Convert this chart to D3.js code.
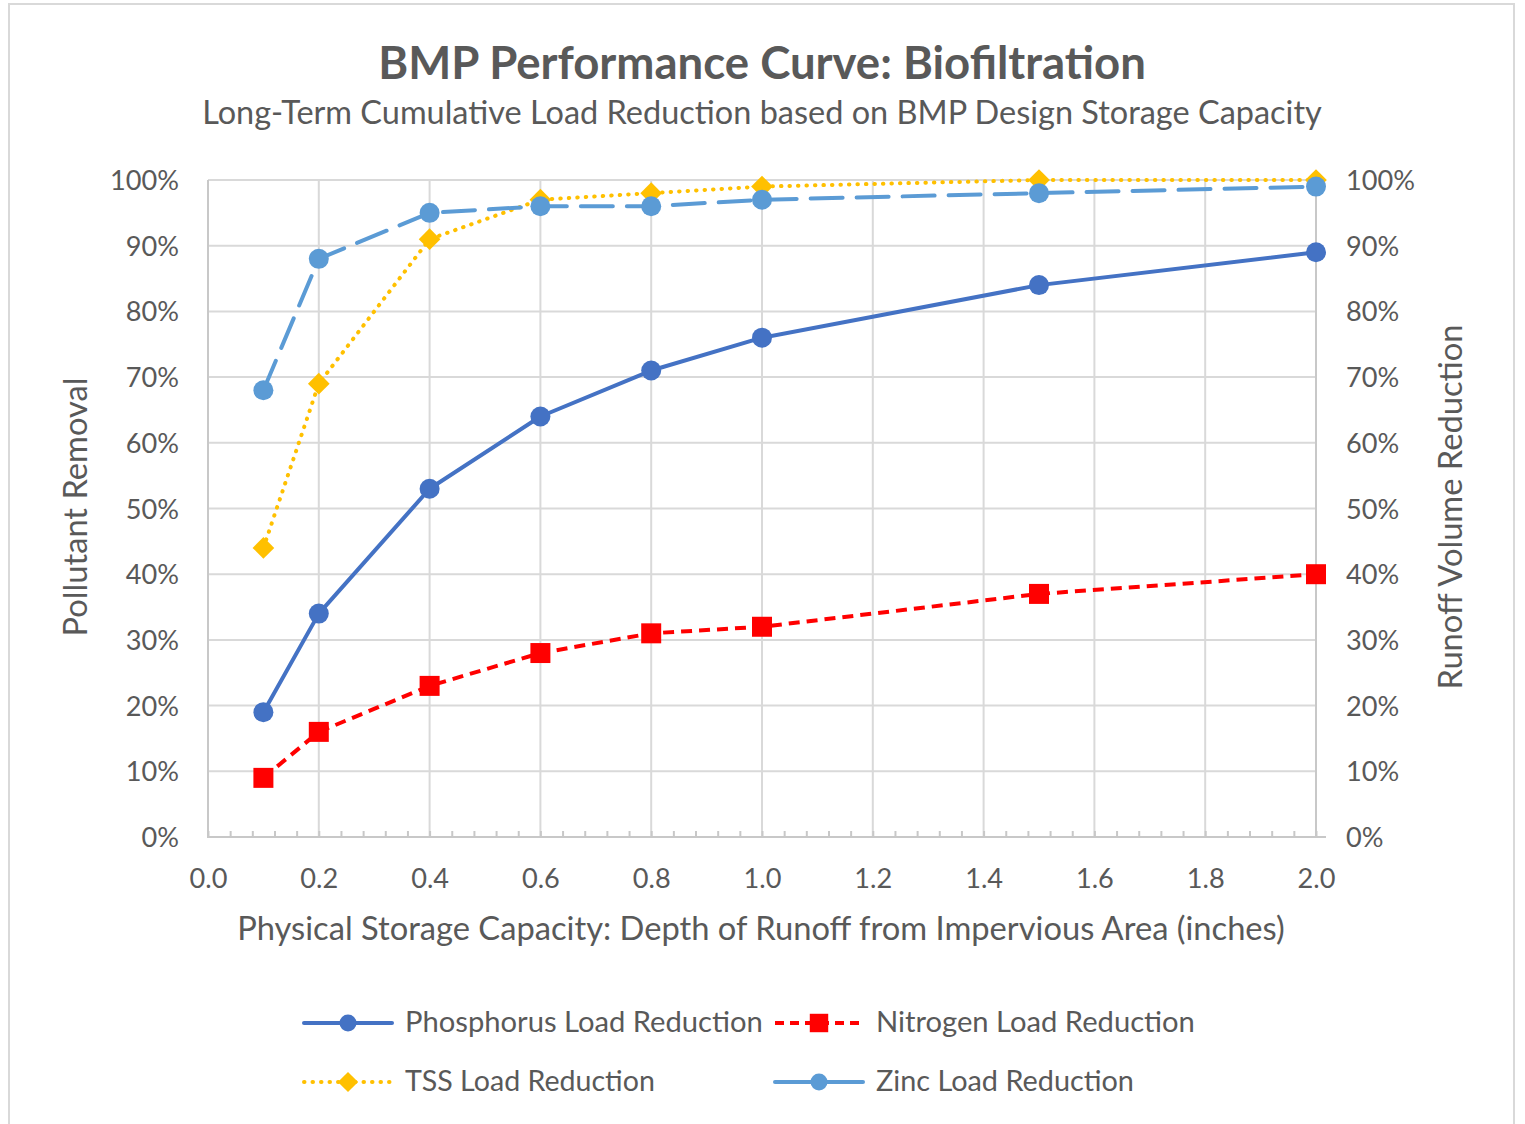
<!DOCTYPE html>
<html><head><meta charset="utf-8">
<script src="https://cdn.jsdelivr.net/npm/d3@7"></script>
<style>body{margin:0;background:#fff}svg{display:block}text{font-family:Lato,"Open Sans",sans-serif;fill:#595959}</style>
</head><body>
<svg id="c" width="1525" height="1124"></svg>
<script>
const depths = [0.1, 0.2, 0.4, 0.6, 0.8, 1.0, 1.5, 2.0];
const phosphorus = [19, 34, 53, 64, 71, 76, 84, 89];
const nitrogen = [9, 16, 23, 28, 31, 32, 37, 40];
const tss = [44, 69, 91, 97, 98, 99, 100, 100];
const zinc = [68, 88, 95, 96, 96, 97, 98, 99];
const xTicks = [0.0, 0.2, 0.4, 0.6, 0.8, 1.0, 1.2, 1.4, 1.6, 1.8, 2.0];
const yTicks = [0, 10, 20, 30, 40, 50, 60, 70, 80, 90, 100];
const seriesNames = ["Phosphorus Load Reduction", "Nitrogen Load Reduction", "TSS Load Reduction", "Zinc Load Reduction"];
const titleText = "BMP Performance Curve: Biofiltration";
const subtitleText = "Long-Term Cumulative Load Reduction based on BMP Design Storage Capacity";
const xTitle = "Physical Storage Capacity: Depth of Runoff from Impervious Area (inches)";
const yTitle = "Pollutant Removal";
const y2Title = "Runoff Volume Reduction";

const svg = d3.select("#c");
const L = 208, R = 1316, T = 180, B = 837;
const x = d3.scaleLinear().domain([0, 2]).range([L, R]);
const y = d3.scaleLinear().domain([0, 100]).range([B, T]);
const y2 = d3.scaleLinear().domain([0, 100]).range([B, T]);

function fit(sel, target, base) {
  sel.style("font-size", base + "px");
  const len = sel.node().getComputedTextLength();
  sel.style("font-size", (base * target / len) + "px");
  return sel;
}

// tick font size derived from "100%" label width
const probe = svg.append("text").style("font-size", "24px").text("100%");
const tickFs = 24 * 69 / probe.node().getComputedTextLength();
probe.remove();

// outer border
svg.append("rect").attr("x", 9).attr("y", 4).attr("width", 1505).attr("height", 1140)
  .attr("fill", "none").attr("stroke", "#d9d9d9").attr("stroke-width", 2);

// gridlines
const g = svg.append("g");
g.selectAll(".hg").data(yTicks.filter(d => d > 0)).join("line")
  .attr("x1", L).attr("x2", R).attr("y1", d => y(d)).attr("y2", d => y(d))
  .attr("stroke", "#d9d9d9").attr("stroke-width", 2);
g.selectAll(".vg").data(xTicks.filter(d => d > 0 && d < 2)).join("line")
  .attr("x1", d => x(d)).attr("x2", d => x(d)).attr("y1", T).attr("y2", B)
  .attr("stroke", "#d9d9d9").attr("stroke-width", 2);

// axes lines
g.append("line").attr("x1", L).attr("x2", L).attr("y1", T).attr("y2", B).attr("stroke", "#c8c8c8").attr("stroke-width", 2);
g.append("line").attr("x1", R).attr("x2", R).attr("y1", T).attr("y2", B).attr("stroke", "#c8c8c8").attr("stroke-width", 2);
g.append("line").attr("x1", L - 1).attr("x2", R + 10).attr("y1", B).attr("y2", B).attr("stroke", "#c8c8c8").attr("stroke-width", 2);

// x axis minor ticks
const xAxisMinor = d3.axisTop(x).tickValues(d3.range(0, 51).map(i => i * 0.04)).tickSize(6).tickFormat("");
const gx = svg.append("g").attr("transform", `translate(0,${B})`).call(xAxisMinor);
gx.select(".domain").remove();
gx.selectAll("line").attr("stroke", "#c8c8c8").attr("stroke-width", 2);

const xAxis = d3.axisBottom(x).tickValues(xTicks).tickSize(0).tickPadding(0).tickFormat(d3.format(".1f"));
const gx2 = svg.append("g").attr("transform", `translate(0,${B})`).call(xAxis);
gx2.select(".domain").remove();
gx2.selectAll("text").attr("dy", null).attr("y", 51).style("font-size", tickFs + "px").style("font-family", "Lato,sans-serif").attr("fill", "#595959");

const yAxis = d3.axisLeft(y).tickValues(yTicks).tickSize(0).tickPadding(0).tickFormat(d => d + "%");
const gy = svg.append("g").attr("transform", `translate(179,0)`).call(yAxis);
gy.select(".domain").remove();
gy.selectAll("text").attr("x", 0).attr("dy", "0.35em").style("font-size", tickFs + "px").style("font-family", "Lato,sans-serif").attr("fill", "#595959");

const y2Axis = d3.axisRight(y2).tickValues(yTicks).tickSize(0).tickPadding(0).tickFormat(d => d + "%");
const gy2 = svg.append("g").attr("transform", `translate(1346,0)`).call(y2Axis);
gy2.select(".domain").remove();
gy2.selectAll("text").attr("x", 0).attr("dy", "0.35em").style("font-size", tickFs + "px").style("font-family", "Lato,sans-serif").attr("fill", "#595959");

// titles
fit(svg.append("text").attr("x", 762).attr("y", 79).attr("text-anchor", "middle").attr("font-weight", "bold").text(titleText), 768, 38);
fit(svg.append("text").attr("x", 762).attr("y", 124).attr("text-anchor", "middle").text(subtitleText), 1120, 28);
fit(svg.append("text").attr("x", 761).attr("y", 940).attr("text-anchor", "middle").text(xTitle), 1048, 28);
fit(svg.append("text").attr("transform", "translate(87,507) rotate(-90)").attr("text-anchor", "middle").text(yTitle), 259, 28);
fit(svg.append("text").attr("transform", "translate(1462,507) rotate(-90)").attr("text-anchor", "middle").text(y2Title), 365, 28);

// series
const series = [
  {name: seriesNames[0], vals: phosphorus, color: "#4472C4", dash: null, cap: "round", marker: "circle"},
  {name: seriesNames[1], vals: nitrogen, color: "#FF0000", dash: "11,7", cap: "butt", marker: "square"},
  {name: seriesNames[2], vals: tss, color: "#FFC000", dash: "0.5,8", cap: "round", marker: "diamond"},
  {name: seriesNames[3], vals: zinc, color: "#5B9BD5", dash: "32,14", cap: "round", marker: "circle"}
];
const line = d3.line().x(d => x(d[0])).y(d => y(d[1]));
const symType = {circle: d3.symbolCircle, square: d3.symbolSquare, diamond: d3.symbolDiamond2};
const symSize = {circle: Math.PI * 100, square: 400, diamond: 300};

series.forEach(s => {
  const pts = depths.map((d, i) => [d, s.vals[i]]);
  svg.append("path").attr("d", line(pts)).attr("fill", "none").attr("stroke", s.color)
    .attr("stroke-width", 4).attr("stroke-linecap", s.cap).attr("stroke-linejoin", "round")
    .attr("stroke-dasharray", s.dash);
  svg.append("g").selectAll("path").data(pts).join("path")
    .attr("transform", d => `translate(${x(d[0])},${y(d[1])})`)
    .attr("d", d3.symbol().type(symType[s.marker]).size(symSize[s.marker]))
    .attr("fill", s.color);
});

// legend
const legendPos = [
  {lx: 304, y: 1023, tx: 405, w: 358},
  {lx: 775, y: 1023, tx: 876, w: 319},
  {lx: 304, y: 1082, tx: 405, w: 250},
  {lx: 775, y: 1082, tx: 876, w: 258}
];
series.forEach((s, i) => {
  const p = legendPos[i];
  const lg = svg.append("g");
  lg.append("line").attr("x1", p.lx).attr("x2", p.lx + 88).attr("y1", p.y).attr("y2", p.y)
    .attr("stroke", s.color).attr("stroke-width", 4).attr("stroke-linecap", s.cap)
    .attr("stroke-dasharray", i === 1 ? "9,6" : (i === 2 ? "0.5,8" : null));
  lg.append("path").attr("transform", `translate(${p.lx + 44},${p.y})`)
    .attr("d", d3.symbol().type(symType[s.marker]).size(s.marker === "circle" ? Math.PI * 72 : (s.marker === "square" ? 340 : 260)))
    .attr("fill", s.color);
  fit(lg.append("text").attr("x", p.tx).attr("y", p.y + 9).text(s.name), p.w, 25);
});
</script>
</body></html>
